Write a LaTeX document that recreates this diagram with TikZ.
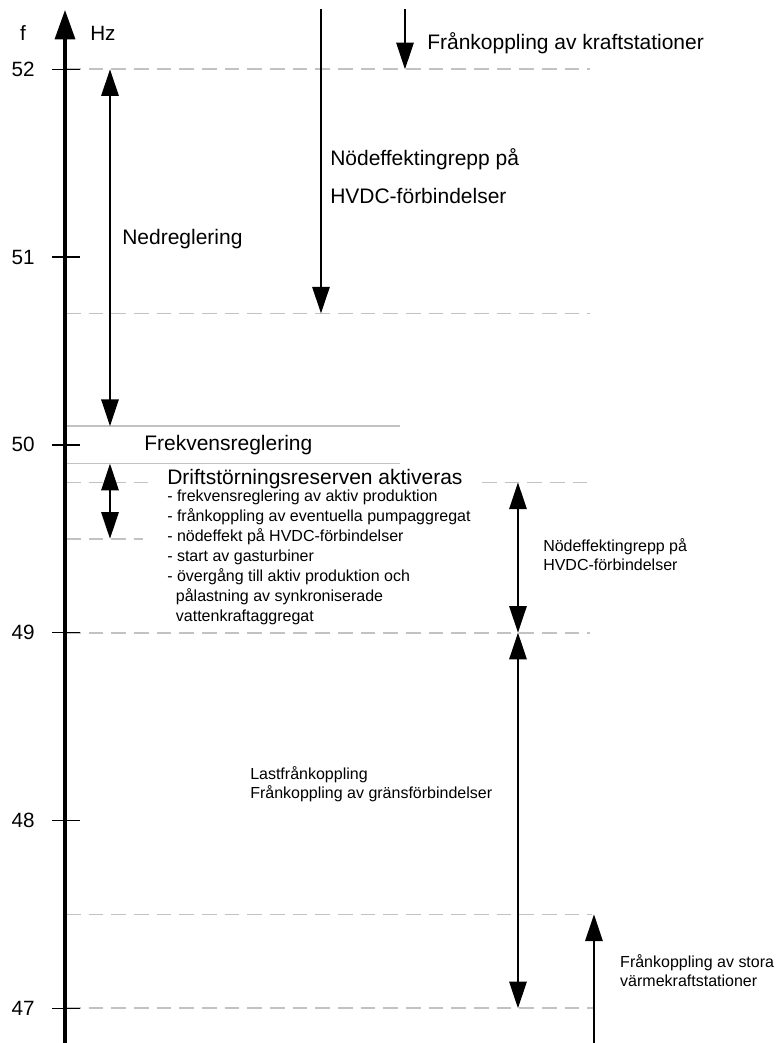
\documentclass[tikz,border=0pt]{standalone}
\usepackage{fontspec}
\setmainfont{Liberation Sans}
\usetikzlibrary{arrows.meta}
\newcommand\colorGrid{black!24}
\newcommand\colorAxis{black}
\newcommand\axisX{65}
\newcommand\bigText{\fontsize{15.75}{28.5}\selectfont}
\newcommand\smallText{\fontsize{12}{14.5}\selectfont}
\newcommand\axisText{\fontsize{15.5}{18}\selectfont}
\tikzset{
	gridline/.style={draw=\colorGrid, line width=1.3pt, dash pattern=on 11pt off 6pt},
	bandline/.style={draw=\colorGrid, line width=1.2pt},
	oneway/.style={line width=1.5pt, -{Triangle[length=20pt,width=13pt]}},
	twoway/.style={line width=1.5pt, {Triangle[length=20pt,width=13pt]}-{Triangle[length=20pt,width=13pt]}},
	bigLabel/.style={anchor=west, inner sep=0pt, font=\bigText, align=left},
	smallLabel/.style={anchor=west, inner sep=0pt, font=\smallText, align=left},
}

\begin{document}
\begin{tikzpicture}[x=0.75pt, y=140.85pt]
	\useasboundingbox (0,-3.185) rectangle (776,2.369);
	
	% frequency bands
	\foreach \f/\xa/\xb in {2/66/590, 0.7/66/590, -1/66/590, -2.5/66/592, -3/66/594, -0.2/66/148, -0.5/66/143, -0.2/482/587}{
		\draw[gridline] (\xa,\f) to (\xb,\f);
	}
	\foreach \f in {0.1,-0.1}{
		\draw[bandline] (67,\f) to (400,\f);
	}
	
	% axis
	\coordinate (axis bottom) at (\axisX,-3.19);
	\coordinate (axis top) at (\axisX,2.316);
	\draw[color=\colorAxis, line width=2.4pt, -{Triangle[length=22pt,width=15pt]}] (axis bottom) to (axis top);
	\foreach \f in {-3,...,2}{
		\pgfmathtruncatemacro\hz{50+\f}
		\draw[color=\colorAxis, line width=1.1pt] (52,\f) to (80,\f);
		\node[anchor=east, inner sep=0pt, font=\axisText] (tick\hz) at (35,\f) {\hz};
	}
	\node[font=\axisText, inner sep=0pt] (fsym) at (23,2.193) {f};
	\node[font=\axisText, inner sep=0pt, anchor=west] (unit) at (90,2.193) {Hz};
	
	% arrows
	\coordinate (ned top) at (110,2);
	\coordinate (ned bot) at (110,0.1);
	\coordinate (hvdc top) at (321,2.321);
	\coordinate (hvdc bot) at (321,0.7);
	\coordinate (kraft top) at (405,2.321);
	\coordinate (kraft bot) at (405,2);
	\coordinate (res top) at (110,-0.1);
	\coordinate (res bot) at (110,-0.5);
	\coordinate (nod top) at (518,-0.2);
	\coordinate (nod bot) at (518,-1);
	\coordinate (last bot) at (518,-3);
	\coordinate (varme bot) at (594,-3.19);
	\coordinate (varme top) at (594,-2.5);
	
	\draw[twoway] (ned top) to (ned bot);
	\draw[oneway] (hvdc top) to (hvdc bot);
	\draw[oneway] (kraft top) to (kraft bot);
	\draw[twoway] (res top) to (res bot);
	\draw[twoway] (nod top) to (nod bot);
	\draw[twoway] (nod bot) to (last bot);
	\draw[oneway] (varme bot) to (varme top);
	
	% labels
	\node[bigLabel] (kraft) at (427,2.140) {Frånkoppling av kraftstationer};
	\node[bigLabel] (hvdc) at (330,1.432) {Nödeffektingrepp på\\HVDC-förbindelser};
	\node[bigLabel] (ned) at (122,1.096) {Nedreglering};
	\node[bigLabel] (frekv) at (144,0) {Frekvensreglering};
	\node[bigLabel] (drift) at (167,-0.182) {Driftstörningsreserven aktiveras};
	\node[smallLabel, anchor=north west, font=\fontsize{12}{15}\selectfont] (reserve) at (167,-0.2375) {- frekvensreglering av aktiv produktion\\- frånkoppling av eventuella pumpaggregat\\- nödeffekt på HVDC-förbindelser\\- start av gasturbiner\\- övergång till aktiv produktion och\\\hspace*{6.5pt}pålastning av synkroniserade\\\hspace*{6.5pt}vattenkraftaggregat};
	\node[smallLabel] (nod) at (543,-0.584) {Nödeffektingrepp på\\HVDC-förbindelser};
	\node[smallLabel] (last) at (250,-1.806) {Lastfrånkoppling\\Frånkoppling av gränsförbindelser};
	\node[smallLabel] (varme) at (620,-2.801) {Frånkoppling av stora\\värmekraftstationer};
\end{tikzpicture}
\end{document}
